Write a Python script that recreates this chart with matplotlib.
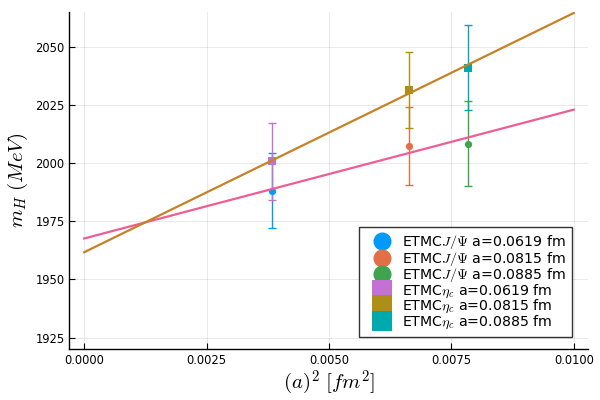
import matplotlib
matplotlib.use("Agg")
import matplotlib.pyplot as plt

plt.rcParams['mathtext.fontset'] = 'cm'

# data
a2 = [0.0619**2, 0.0815**2, 0.0885**2]
spacing_labels = ["a=0.0619 fm", "a=0.0815 fm", "a=0.0885 fm"]
jpsi_mass = [1988.1, 2007.4, 2008.3]
jpsi_err = [16.1, 16.7, 18.2]
etac_mass = [2000.7, 2031.3, 2040.9]
etac_err = [16.5, 16.3, 18.3]
fit_x = [0.0, 0.01]
fit_jpsi = [1967.6, 2022.9]
fit_etac = [1961.7, 2064.4]

jpsi_colors = ["#009AFA", "#E36F47", "#3EA44E"]
etac_colors = ["#C371D2", "#AC8E18", "#00A9AD"]
fit_colors = ["#ED5E93", "#C68225"]

fig = plt.figure(figsize=(6, 4), dpi=100)
ax = fig.add_axes([0.1158, 0.1275, 0.865, 0.843])

handles = []
labels = []
for x, m, e, c, lab in zip(a2, jpsi_mass, jpsi_err, jpsi_colors, spacing_labels):
    ax.errorbar([x], [m], yerr=[e], fmt='none', ecolor=c, elinewidth=1.0,
                capsize=3, capthick=1.0, zorder=2)
    h, = ax.plot([x], [m], 'o', color=c, markersize=5.2, markeredgewidth=0, zorder=3)
    handles.append(h)
    labels.append(r"ETMC$J/\Psi$ " + lab)
for x, m, e, c, lab in zip(a2, etac_mass, etac_err, etac_colors, spacing_labels):
    ax.errorbar([x], [m], yerr=[e], fmt='none', ecolor=c, elinewidth=1.0,
                capsize=3, capthick=1.0, zorder=2)
    h, = ax.plot([x], [m], 's', color=c, markersize=5.5, markeredgewidth=0, zorder=3)
    handles.append(h)
    labels.append(r"ETMC$\eta_c$ " + lab)

ax.plot(fit_x, fit_jpsi, color=fit_colors[0], lw=1.6, zorder=4)
ax.plot(fit_x, fit_etac, color=fit_colors[1], lw=1.6, zorder=4)

ax.set_xlim(-0.0003, 0.0103)
ax.set_ylim(1920.15, 2064.9)
ax.set_xticks([0.0, 0.0025, 0.0050, 0.0075, 0.0100])
ax.set_xticklabels(["0.0000", "0.0025", "0.0050", "0.0075", "0.0100"])
ax.set_yticks([1925, 1950, 1975, 2000, 2025, 2050])
ax.tick_params(direction='in', length=4, width=0.8, labelsize=8.3, colors='black')
ax.grid(True, color='black', alpha=0.1, lw=0.6)
ax.spines['top'].set_visible(False)
ax.spines['right'].set_visible(False)
for s in ['left', 'bottom']:
    ax.spines[s].set_linewidth(1.0)

ax.set_xlabel(r"$(a)^2\ [fm^2]$", fontsize=15, labelpad=1)
ax.set_ylabel(r"$m_H\ (MeV)$", fontsize=15, labelpad=4)

leg = ax.legend(handles, labels, loc='lower right', bbox_to_anchor=(0.968, 0.0347),
                fontsize=10.2, markerscale=2.5, handletextpad=0.25,
                labelspacing=-0.12, borderpad=0.45, fancybox=False, framealpha=1,
                edgecolor='#333333', handlelength=2.3, borderaxespad=0.0)
leg.get_frame().set_linewidth(1.0)

fig.savefig("out.png", dpi=100)
